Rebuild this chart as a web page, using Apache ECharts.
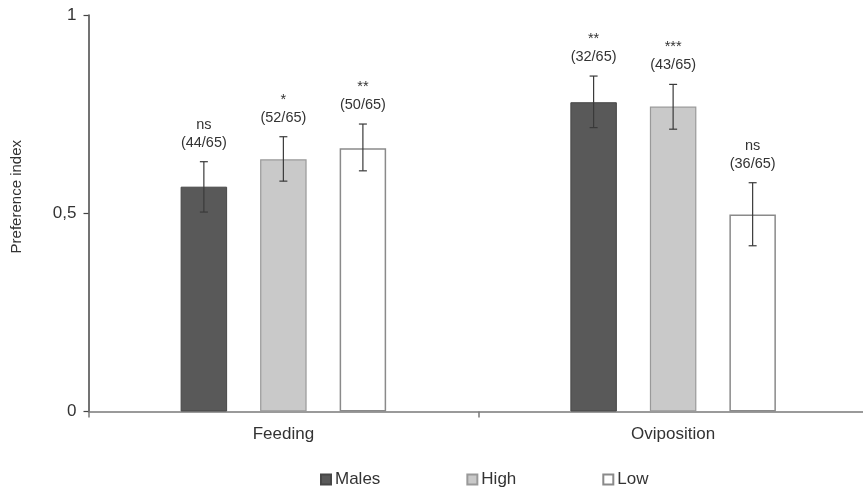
<!DOCTYPE html>
<html>
<head>
<meta charset="utf-8">
<script src="https://cdn.jsdelivr.net/npm/echarts@6/dist/echarts.min.js"></script>
<style>html,body{margin:0;padding:0;background:#fff}#c{width:863px;height:490px}</style>
</head>
<body>
<div id="c"></div>
<script>
var categories = ['Feeding', 'Oviposition'];
var seriesNames = ['Males', 'High', 'Low'];
var males = [0.567, 0.780];
var high = [0.636, 0.769];
var low = [0.664, 0.497];
var malesErrLow = [0.503, 0.716];
var malesErrHigh = [0.630, 0.846];
var highErrLow = [0.581, 0.712];
var highErrHigh = [0.693, 0.825];
var lowErrLow = [0.607, 0.418];
var lowErrHigh = [0.725, 0.577];
var malesSig = ['ns', '**'];
var highSig = ['*', '***'];
var lowSig = ['**', 'ns'];
var malesFrac = ['(44/65)', '(32/65)'];
var highFrac = ['(52/65)', '(43/65)'];
var lowFrac = ['(50/65)', '(36/65)'];
var yTicks = ['0', '0,5', '1'];

var BAR_W = 46.5, GAP = 0.71;
var FONT = 'Liberation Sans, Arial, sans-serif';
var TXT = '#333333';

var values = [males, high, low];
var errLow = [malesErrLow, highErrLow, lowErrLow];
var errHigh = [malesErrHigh, highErrHigh, lowErrHigh];
var sigs = [malesSig, highSig, lowSig];
var fracs = [malesFrac, highFrac, lowFrac];
var styles = [
  {color: '#595959', borderColor: '#474747', borderWidth: 1},
  {color: '#c9c9c9', borderColor: '#999999', borderWidth: 1.2},
  {color: '#ffffff', borderColor: '#8a8a8a', borderWidth: 1.5}
];

var series = [];
seriesNames.forEach(function (name, i) {
  series.push({
    name: name, type: 'bar', barWidth: BAR_W, barGap: (GAP * 100) + '%',
    data: values[i], itemStyle: styles[i], z: 2, silent: true
  });
});
seriesNames.forEach(function (name, i) {
  var d = categories.map(function (c, k) { return [k, errLow[i][k], errHigh[i][k]]; });
  series.push({
    type: 'custom', z: 5, silent: true,
    data: d,
    renderItem: function (params, api) {
      var k = api.value(0);
      var base = api.coord([k, 0]);
      var x = base[0] + (i - 1) * BAR_W * (1 + GAP);
      var yLo = api.coord([k, api.value(1)])[1];
      var yHi = api.coord([k, api.value(2)])[1];
      var cw = 4;
      var st = {stroke: '#3a3a3a', lineWidth: 1.2};
      return {
        type: 'group',
        children: [
          {type: 'line', shape: {x1: x, y1: yLo, x2: x, y2: yHi}, style: st},
          {type: 'line', shape: {x1: x - cw, y1: yLo, x2: x + cw, y2: yLo}, style: st},
          {type: 'line', shape: {x1: x - cw, y1: yHi, x2: x + cw, y2: yHi}, style: st},
          {type: 'text', x: x, y: yHi - 10, style: {
            text: sigs[i][k] + '\n' + fracs[i][k],
            font: '14.5px ' + FONT, fill: TXT, align: 'center', verticalAlign: 'bottom',
            lineHeight: 18
          }}
        ]
      };
    }
  });
});

var chart = echarts.init(document.getElementById('c'));
chart.setOption({
  animation: false,
  backgroundColor: '#ffffff',
  grid: {left: 88.5, width: 779.5, top: 15, bottom: 78.5, containLabel: false, outerBoundsMode: 'none'},
  legend: {
    data: seriesNames, left: 315, top: 466, icon: 'rect', itemWidth: 10, itemHeight: 10,
    itemGap: 86, selectedMode: false,
    textStyle: {fontFamily: FONT, fontSize: 17, color: TXT, padding: [0, 0, 0, -1]}
  },
  xAxis: {
    type: 'category', data: categories,
    axisLine: {lineStyle: {color: '#7a7a7a', width: 1.5}},
    axisTick: {show: true, alignWithLabel: false, length: 6, lineStyle: {color: '#7a7a7a', width: 1.5}},
    axisLabel: {fontFamily: FONT, fontSize: 17, color: TXT, margin: 14}
  },
  yAxis: {
    type: 'value', min: 0, max: 1, interval: 0.5,
    splitLine: {show: false},
    axisLine: {show: true, lineStyle: {color: '#444444', width: 1.5}},
    axisTick: {show: true, length: 5, lineStyle: {color: '#444444', width: 1.2}},
    axisLabel: {fontFamily: FONT, fontSize: 17, color: TXT, margin: 12,
      formatter: function (v) { return yTicks[Math.round(v * 2)]; }}
  },
  graphic: [{
    type: 'text', left: 9, top: 140, rotation: Math.PI / 2,
    style: {text: 'Preference index', font: '15px ' + FONT, fill: TXT}
  }],
  series: series
});
</script>
</body>
</html>
